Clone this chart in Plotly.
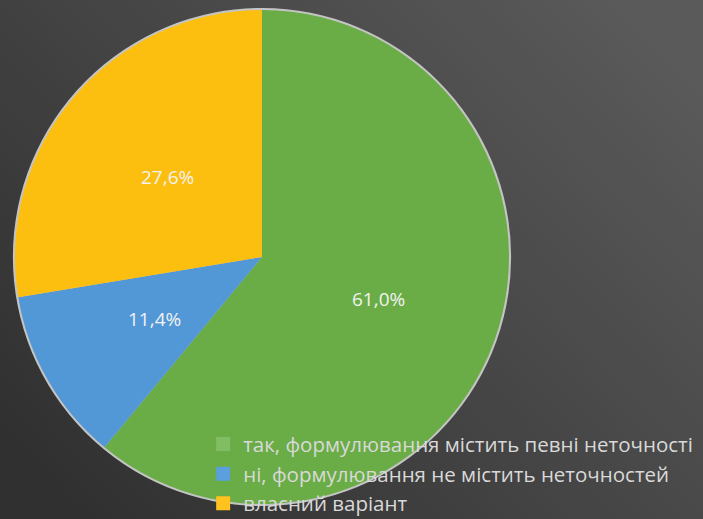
import base64
import math

import plotly.graph_objects as go

# data
categories = ['так, формулювання містить певні неточності',
              'ні, формулювання не містить неточностей',
              'власний варіант']
shares = [61.0, 11.4, 27.6]
colors = ['#6aad46', '#5297d6', '#fdbf0f']
legend_colors = ['#82bd62', '#5b9fdc', '#ffc21e']

W, H = 703, 519
CX, CY, R = 262, 257, 247   # pie centre / radius in pixels

# dark gradient background (svg as a data uri)
svg = ('<svg xmlns="http://www.w3.org/2000/svg" width="703" height="519">'
       '<defs><linearGradient id="g" x1="0" y1="0.85" x2="1" y2="0.15">'
       '<stop offset="0" stop-color="#303030"/>'
       '<stop offset="1" stop-color="#5a5a5a"/>'
       '</linearGradient></defs>'
       '<rect width="703" height="519" fill="url(#g)"/></svg>')
bg = 'data:image/svg+xml;base64,' + base64.b64encode(svg.encode()).decode()


def dom(r):
    return dict(x=[(CX - r) / W, (CX + r) / W],
                y=[1 - (CY + r) / H, 1 - (CY - r) / H])


fig = go.Figure()

# light rim behind the pie
fig.add_trace(go.Pie(
    values=[1],
    marker=dict(colors=['#c4c4c4'], line=dict(width=0)),
    textinfo='none', hoverinfo='skip', showlegend=False, sort=False,
    domain=dom(R + 2)))

fig.add_trace(go.Pie(
    labels=categories,
    values=shares,
    sort=False,
    direction='clockwise',
    rotation=0,
    marker=dict(colors=colors, line=dict(width=0)),
    textinfo='none',
    showlegend=False,
    domain=dom(R)))

# value labels at half radius, like the original
annotations = []
total = sum(shares)
acc = 0
for v in shares:
    mid = (acc + v / 2) / total * 2 * math.pi
    acc += v
    px = CX + 0.5 * R * math.sin(mid)
    py = CY - 0.5 * R * math.cos(mid)
    annotations.append(dict(
        x=px / W, y=1 - py / H, xref='paper', yref='paper',
        xanchor='center', yanchor='middle',
        text=f'{v:.1f}%'.replace('.', ','), showarrow=False,
        font=dict(family='Open Sans', size=19, color='#f2f2f2')))

# legend entries
for name, c in zip(categories, legend_colors):
    fig.add_trace(go.Scatter(
        x=[None], y=[None], mode='markers', name=name, legendgroup=name,
        marker=dict(symbol='square', size=14, color=c,
                    line=dict(width=0))))

fig.update_layout(
    width=W, height=H,
    margin=dict(l=0, r=0, t=0, b=0, autoexpand=False),
    paper_bgcolor='#444444',
    plot_bgcolor='rgba(0,0,0,0)',
    xaxis=dict(visible=False),
    yaxis=dict(visible=False),
    annotations=annotations,
    images=[dict(source=bg, xref='paper', yref='paper', x=0, y=1,
                 sizex=1, sizey=1, sizing='stretch', layer='below')],
    legend=dict(x=0.289, y=-0.008, xanchor='left', yanchor='bottom',
                font=dict(family='Open Sans', size=20.5, color='#d9d9d9'),
                bgcolor='rgba(0,0,0,0)', tracegroupgap=0),
)

fig.write_html('out.html', config={'displayModeBar': False},
               post_script="document.body.style.margin='0';")
